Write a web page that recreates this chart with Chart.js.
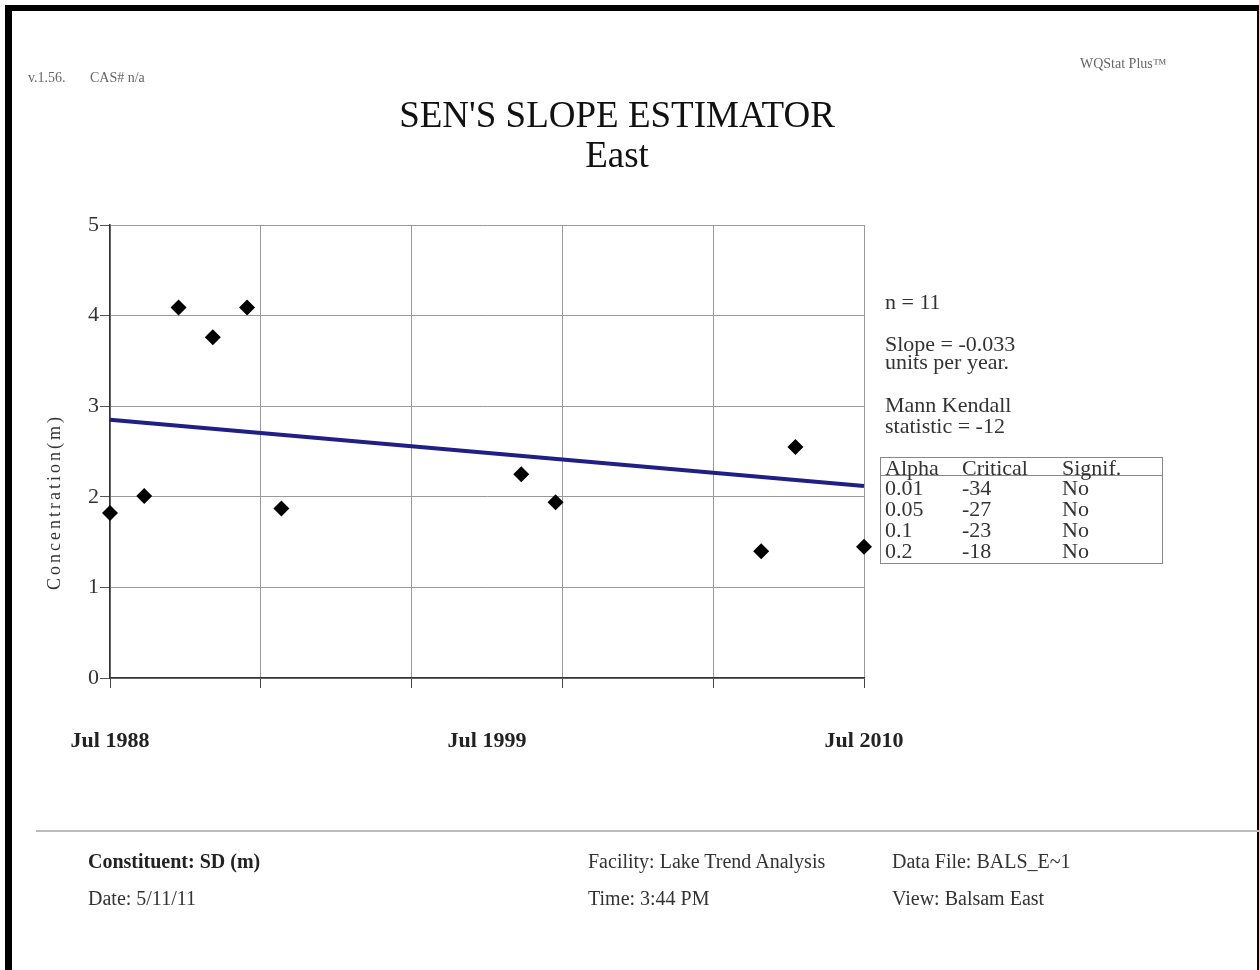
<!DOCTYPE html>
<html>
<head>
<meta charset="utf-8">
<script src="https://cdn.jsdelivr.net/npm/chart.js@4.4.1/dist/chart.umd.min.js"></script>
<style>
  body { margin: 0; background: #fff; overflow: hidden; }
  #page { position: relative; width: 1259px; height: 970px; overflow: hidden;
          font-family: "Liberation Serif", "Times New Roman", serif; color: #222; }
  #frame { position: absolute; left: 5px; top: 5px; width: 1254px; height: 1000px; box-sizing: border-box;
           border-left: 7px solid #000; border-top: 6px solid #000; border-right: 2px solid #000; }
  canvas { position: absolute; left: 0; top: 0; }
  .t { position: absolute; white-space: nowrap; line-height: 1; }
  .small { font-size: 14px; color: #666; }
  .title { font-size: 37px; width: 600px; left: 317px; text-align: center; color: #111; }
  .stat { font-size: 22px; color: #333; }
  .foot { font-size: 20px; color: #333; }
  #ytitle { position: absolute; left: 54px; top: 502px; font-size: 18px; letter-spacing: 3px; color: #333;
            white-space: nowrap; transform: translate(-50%, -50%) rotate(-90deg); }
  #table { position: absolute; left: 880px; top: 457px; width: 283px; height: 107px; box-sizing: border-box;
           border: 1px solid #888; }
  #tableLine { position: absolute; left: 880px; top: 475px; width: 283px; border-top: 1px solid #888; }
  #footLine { position: absolute; left: 36px; top: 830px; width: 1223px; border-top: 2px solid #bbb; }
</style>
</head>
<body>
<div id="page">
  <canvas id="senChart" width="1259" height="970"></canvas>
  <div id="frame"></div>

  <div class="t small" style="left:28px;top:71px;">v.1.56.</div>
  <div class="t small" style="left:90px;top:71px;">CAS# n/a</div>
  <div class="t small" style="left:1080px;top:57px;">WQStat Plus&trade;</div>

  <div class="t title" style="top:96px;">SEN'S SLOPE ESTIMATOR</div>
  <div class="t title" style="top:136px;">East</div>

  <div id="ytitle">Concentration(m)</div>

  <div class="t stat" style="left:885px;top:291px;">n = 11</div>
  <div class="t stat" style="left:885px;top:333px;">Slope = -0.033</div>
  <div class="t stat" style="left:885px;top:351px;">units per year.</div>
  <div class="t stat" style="left:885px;top:394px;">Mann Kendall</div>
  <div class="t stat" style="left:885px;top:415px;">statistic = -12</div>

  <div id="table"></div>
  <div id="tableLine"></div>
  <div id="tableText"></div>

  <div id="footLine"></div>
  <div class="t foot" style="left:88px;top:851px;font-weight:bold;color:#222;">Constituent: SD (m)</div>
  <div class="t foot" style="left:88px;top:888px;">Date: 5/11/11</div>
  <div class="t foot" style="left:588px;top:851px;">Facility: Lake Trend Analysis</div>
  <div class="t foot" style="left:588px;top:888px;">Time: 3:44 PM</div>
  <div class="t foot" style="left:892px;top:851px;">Data File: BALS_E~1</div>
  <div class="t foot" style="left:892px;top:888px;">View: Balsam East</div>
</div>

<script>
// sample dates as decimal years (July = .5) and measured values
const sampleDates = [1988.5, 1989.5, 1990.5, 1991.5, 1992.5, 1993.5, 2000.5, 2001.5, 2007.5, 2008.5, 2010.5];
const concentration = [1.82, 2.01, 4.09, 3.76, 4.09, 1.87, 2.25, 1.94, 1.40, 2.55, 1.45];

// Sen's slope trend line end points
const trendDates = [1988.5, 2010.5];
const trendValues = [2.85, 2.12];

// x axis ticks: every 2.2 years, grid on every other one
const xTickDates = [1988.5, 1990.7, 1992.9, 1995.1, 1997.3, 1999.5, 2001.7, 2003.9, 2006.1, 2008.3, 2010.5];
const xTickLabels = ['Jul 1988', '', '', '', '', 'Jul 1999', '', '', '', '', 'Jul 2010'];
const xGridOn = [true, false, true, false, true, false, true, false, true, false, true];

// table of critical values
const alphas = ['Alpha', '0.01', '0.05', '0.1', '0.2'];
const criticals = ['Critical', '-34', '-27', '-23', '-18'];
const signifs = ['Signif.', 'No', 'No', 'No', 'No'];

const rowTops = [457, 477, 498, 519, 540];
const colLefts = [885, 962, 1062];
const tableText = document.getElementById('tableText');
for (let i = 0; i < alphas.length; i++) {
  [alphas[i], criticals[i], signifs[i]].forEach((txt, c) => {
    const d = document.createElement('div');
    d.className = 't stat';
    d.style.left = colLefts[c] + 'px';
    d.style.top = rowTops[i] + 'px';
    d.textContent = txt;
    tableText.appendChild(d);
  });
}

const points = sampleDates.map((d, i) => ({ x: d, y: concentration[i] }));
const trend = trendDates.map((d, i) => ({ x: d, y: trendValues[i] }));

const ctx = document.getElementById('senChart').getContext('2d');

new Chart(ctx, {
  type: 'scatter',
  data: {
    datasets: [
      {
        label: 'Trend',
        data: trend,
        showLine: true,
        borderColor: '#1f1f85',
        borderWidth: 4,
        pointRadius: 0,
        clip: false
      },
      {
        label: 'Concentration',
        data: points,
        pointStyle: 'rectRot',
        pointRadius: 8,
        pointBackgroundColor: '#000',
        pointBorderColor: '#000',
        pointBorderWidth: 0,
        clip: false
      }
    ]
  },
  options: {
    responsive: false,
    animation: false,
    layout: { padding: { left: 40, top: 225, right: 395, bottom: 212 } },
    plugins: { legend: { display: false }, tooltip: { enabled: false }, title: { display: false } },
    scales: {
      x: {
        type: 'linear',
        min: xTickDates[0],
        max: xTickDates[xTickDates.length - 1],
        afterBuildTicks: (scale) => { scale.ticks = xTickDates.map(v => ({ value: v })); },
        afterFit: (scale) => { scale.height = 80; },
        border: { color: '#333', width: 1.5 },
        grid: {
          color: (c) => xGridOn[c.index] ? '#999' : 'rgba(0,0,0,0)',
          tickColor: (c) => xGridOn[c.index] ? '#444' : 'rgba(0,0,0,0)',
          tickLength: 10,
          lineWidth: 1
        },
        ticks: {
          autoSkip: false,
          maxRotation: 0,
          padding: 40,
          color: '#222',
          font: { family: 'Liberation Serif', size: 22, weight: 'bold' },
          callback: (v, i) => xTickLabels[i]
        }
      },
      y: {
        min: 0,
        max: 5,
        afterFit: (scale) => { scale.width = 70; },
        border: { color: '#333', width: 1.5 },
        grid: { color: '#999', tickColor: '#555', tickLength: 10, lineWidth: 1 },
        ticks: {
          stepSize: 1,
          padding: 1,
          color: '#333',
          font: { family: 'Liberation Serif', size: 22 }
        }
      }
    }
  }
});
</script>
</body>
</html>
